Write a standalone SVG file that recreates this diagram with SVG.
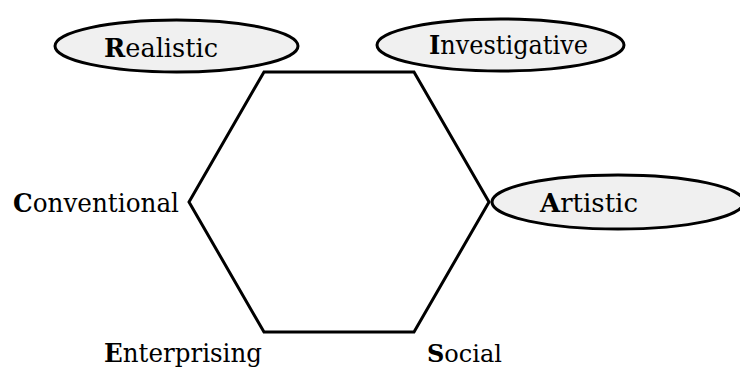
<svg xmlns="http://www.w3.org/2000/svg" width="740" height="372" viewBox="0 0 740 372">
  <style>
    .edge { fill: none; stroke: #000; stroke-width: 3; stroke-linejoin: miter; }
    .bubble { fill: #f0f0f0; stroke: #000; stroke-width: 3; }
    .lbl { font-family: "DejaVu Serif", "Liberation Serif", serif; font-size: 26px; fill: #000; }
    .lbl.narrow { font-size: 25px; }
    .ini { font-weight: bold; }
  </style>
  <rect width="740" height="372" fill="#fff"/>

  <!-- hexagon outline connecting the six types -->
  <g id="connectors">
    <polygon class="edge" points="264,72 414,72 489,202 414,332 264,332 189,202"/>
  </g>

  <g id="realistic">
    <ellipse class="bubble" cx="176.5" cy="46" rx="121.5" ry="26"/>
    <text class="lbl" x="104" y="57" textLength="114" lengthAdjust="spacingAndGlyphs"><tspan class="ini">R</tspan>ealistic</text>
  </g>

  <g id="investigative">
    <ellipse class="bubble" cx="500.5" cy="45" rx="123.5" ry="26"/>
    <text class="lbl" x="429" y="54" textLength="159" lengthAdjust="spacingAndGlyphs"><tspan class="ini">I</tspan>nvestigative</text>
  </g>

  <g id="artistic">
    <ellipse class="bubble" cx="618" cy="202" rx="126" ry="27"/>
    <text class="lbl" x="540" y="212" textLength="98" lengthAdjust="spacingAndGlyphs"><tspan class="ini">A</tspan>rtistic</text>
  </g>

  <g id="conventional">
    <text class="lbl" x="13" y="212" textLength="166" lengthAdjust="spacingAndGlyphs"><tspan class="ini">C</tspan>onventional</text>
  </g>

  <g id="enterprising">
    <text class="lbl" x="104" y="362" textLength="158" lengthAdjust="spacingAndGlyphs"><tspan class="ini">E</tspan>nterprising</text>
  </g>

  <g id="social">
    <text class="lbl narrow" x="427" y="362" textLength="75" lengthAdjust="spacingAndGlyphs"><tspan class="ini">S</tspan>ocial</text>
  </g>
</svg>
